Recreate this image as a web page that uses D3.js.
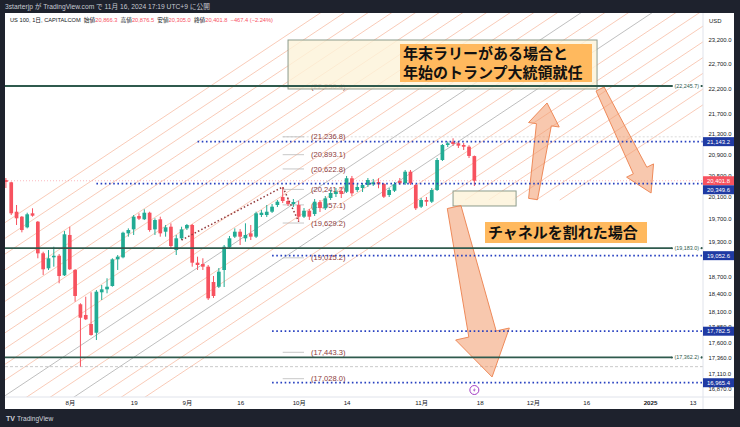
<!DOCTYPE html>
<html><head><meta charset="utf-8">
<script src="https://cdn.jsdelivr.net/npm/d3@7"></script>
<style>html,body{margin:0;padding:0;background:#1e222d;}svg{display:block}</style>
</head><body>
<svg id="c" width="740" height="427"></svg>
<script>
// ---------------- DATA ----------------
const startDay = new Date(2024, 6, 16), endDay = new Date(2025, 0, 15);
const open  = [20416,20373,19833,19743,19552,19804,19653,19094,18834,19024, 19052,18714,19416,18805,18225,18048,17900,17758,18426,18476, 18532,18989,19024,19445,19516,19755,19696,19815,19516,19696, 19474,19563,19151,19357,19534,19594,18931,18908,18862,18600, 18520,18805,19198,19386,19474,19357,19445,19386,19773,19773, 19833,19955,20101,20028,19973,19955,19743,19851,19791,20009, 19895,20083,20156,20212,20198,20448,20230,20267,20323,20336, 20379,20342,20138,20217,20397,20354,20571,20323,19924,20046, 20015,20230,20792,21079,21142,21112,21079,21046,20866.3];
const high  = [20453,20384,19955,19755,19815,19895,19665,19121,19151,19209, 19081,19486,19563,18822,18242,18352,18426,18464,18549,18663, 19007,19064,19474,19534,19773,19804,19877,19833,19714,19743, 19594,19623,19416,19563,19612,19612,19035,19007,18891,18702, 18839,19239,19398,19534,19522,19624,19594,19833,19864,19955, 19973,20046,20286,20083,20064,20028,19900,19882,20064,20046, 20119,20230,20267,20286,20491,20491,20342,20360,20453,20435, 20448,20360,20267,20379,20453,20603,20603,20342,20083,20101, 20267,20830,21098,21146,21208,21137,21117,21075,20876.5];
const low   = [20267,19773,19594,19463,19534,19743,19007,18720,18805,18862, 18578,18702,18805,18269,17216,17965,17710,17640,18297,18409, 18520,18805,19007,19386,19416,19683,19683,19474,19416,19386, 19386,19181,19064,19327,19504,18862,18805,18805,18297,18331, 18498,18515,19168,19362,19239,19297,19327,19362,19737,19737, 19810,19918,19991,19937,19918,19653,19719,19683,19755,19828, 19864,20046,20101,20083,20175,20119,20193,20193,20286,20304, 20262,20083,20101,20193,20323,20323,20323,19864,19900,19937, 19991,20212,20773,21040,21060,21021,20983,20830,20305.0];
const close = [20379,19804,19714,19504,19786,19761,19093,18817,19007,19051, 18702,19428,18817,18364,18003,17977,17721,18436,18476,18520, 18989,19035,19456,19504,19743,19707,19815,19504,19683,19445, 19552,19221,19357,19516,19594,18931,18891,18862,18325,18364, 18776,19209,19357,19474,19386,19416,19386,19804,19815,19833, 19924,20015,20028,19973,20009,19743,19851,19743,20015,19900, 20077,20175,20198,20156,20448,20169,20286,20323,20416,20373, 20336,20107,20230,20336,20354,20571,20354,19895,20046,20015, 20230,20792,21079,21112,21098,21066,21046,20869,20401.8];

const priceTicks = [23200,22700,22200,21700,21300,20900,20500,20100,19700,19300,18700,18400,18100,17850,17600,17360,17110,16870];
const timeTickDates  = ["2024-08-01","2024-08-19","2024-09-02","2024-09-16","2024-10-01","2024-10-14","2024-11-01","2024-11-18","2024-12-02","2024-12-16","2025-01-01","2025-01-13"];
const timeTickLabels = ["8月","19","9月","16","10月","14","11月","18","12月","16","2025","13"];

const solidLevels = [22245.7, 19183.0, 17362.2];
const rayLevels   = [21143.2, 20349.6, 19052.6, 17782.5, 16965.4];
const rayStarts   = ["2024-09-04","2024-08-08","2024-09-24","2024-09-24","2024-09-24"];
const fibLevels   = [22230.4, 21236.8, 20893.1, 20622.8, 20241.2, 19957.1, 19629.2, 19015.2, 17443.3, 17028.0];
const lastPrice = 20401.8;
const swingLow = 17216;
const topLevel = 21236.8;

// ---------------- SETUP ----------------
const svg = d3.select("#c");
const FONT = "'Liberation Sans','Noto Sans CJK JP',Arial,sans-serif";
const JP = "'Noto Sans CJK JP','Noto Sans CJK SC',sans-serif";
const fmtD = d3.timeFormat("%Y-%m-%d");
const dates = d3.timeDay.range(startDay, endDay).filter(d => d.getDay() % 6 !== 0);
const idxOf = s => dates.findIndex(d => fmtD(d) === s);

const PL = 5, PR = 703, PT = 13, PB = 397, RB = 734, BB = 409;
const x = d3.scaleLinear().domain([0, 129]).range([5.9, 692.6]);
const y = d3.scaleLog().domain([16870, 23200]).range([388.9, 40]);
const fmtP = d3.format(",.1f");

const GREEN = "#22ab94", RED = "#f7525f", BLUE = "#2740c0", DKGREEN = "#2f5a4d";

svg.append("rect").attr("width", 740).attr("height", 427).attr("fill", "#1e222d");
svg.append("rect").attr("x", PL).attr("y", PT).attr("width", RB - PL).attr("height", BB - PT).attr("fill", "#fff");

svg.append("defs").append("clipPath").attr("id", "plot")
  .append("rect").attr("x", PL).attr("y", PT).attr("width", PR - PL).attr("height", PB - PT);
const g = svg.append("g").attr("clip-path", "url(#plot)");

// ---------------- CHANNEL LINES ----------------
// parallel trend rays: growth per bar (log), first line anchor, spacing; upper rays start at a price floor
const chGrowth = 0.0032324, chIdx0 = 57.64, chStep = 4.447, chPrice = 23671;
const chGray = [11, 14];
const chCount = 23, chFullCount = 18, chFloor = 20046;
d3.range(chCount).forEach(k => {
  const ref = chIdx0 + k * chStep;
  let i0 = -2;
  if (k >= chFullCount) i0 = ref + Math.log(chFloor / chPrice) / chGrowth;
  const pts = [i0, 140].map(i => [x(i), y(chPrice * Math.exp(chGrowth * (i - ref)))]);
  g.append("path").attr("d", d3.line()(pts))
    .attr("stroke", chGray.includes(k) ? "#a3a3a3" : "#f7b49a")
    .attr("stroke-width", 0.7)
    .attr("fill", "none");
});

g.append("line").attr("x1", PL).attr("x2", PR).attr("y1", y(swingLow)).attr("y2", y(swingLow))
  .attr("stroke", "#bdbdbd").attr("stroke-width", 0.8).attr("stroke-dasharray", "3,2");
g.append("line").attr("x1", x(52)).attr("x2", PR).attr("y1", y(topLevel)).attr("y2", y(topLevel))
  .attr("stroke", "#cccccc").attr("stroke-width", 0.7).attr("stroke-dasharray", "2,2");
g.append("line").attr("x1", PL).attr("x2", PR).attr("y1", y(lastPrice)).attr("y2", y(lastPrice))
  .attr("stroke", RED).attr("stroke-opacity", 0.5).attr("stroke-width", 0.8).attr("stroke-dasharray", "1,2");

fibLevels.forEach(v => {
  g.append("line").attr("x1", x(52)).attr("x2", x(56)).attr("y1", y(v)).attr("y2", y(v))
    .attr("stroke", "#b9b9b9").attr("stroke-width", 0.8);
  g.append("text").attr("x", x(56) + 7).attr("y", y(v)).attr("dy", "0.35em")
    .attr("font-family", FONT).attr("font-size", 7.6).attr("fill", "#8d3b3b")
    .text("(" + fmtP(v) + ")");
});

// ---------------- CANDLES ----------------
const bw = 3.7;
const candles = g.append("g");
open.forEach((o, i) => {
  const c = close[i], col = c >= o ? GREEN : RED, cx = x(i);
  candles.append("line").attr("x1", cx).attr("x2", cx).attr("y1", y(high[i])).attr("y2", y(low[i]))
    .attr("stroke", col).attr("stroke-width", 1);
  const t = y(Math.max(o, c)), b = y(Math.min(o, c));
  candles.append("rect").attr("x", cx - bw / 2).attr("y", t).attr("width", bw).attr("height", Math.max(1, b - t))
    .attr("fill", col);
});

// ---------------- BOXES ----------------
const boxes = [{i0: 53.0, i1: 111.05, p0: 23200, p1: 22185}, {i0: 84.0, i1: 95.84, p0: 20212, p1: 19937}];
boxes.forEach(b => {
  g.append("rect").attr("x", x(b.i0)).attr("y", y(b.p0)).attr("width", x(b.i1) - x(b.i0)).attr("height", y(b.p1) - y(b.p0))
    .attr("fill", "#fdf3d8").attr("fill-opacity", 0.8).attr("stroke", "#8c9b8c").attr("stroke-width", 1);
});

// ---------------- ARROWS ----------------
function arrowPath(t, h, tailW, neckW, headW, headL) {
  const dx = h[0] - t[0], dy = h[1] - t[1], L = Math.hypot(dx, dy);
  const ux = dx / L, uy = dy / L, nx = -uy, ny = ux;
  const bx = h[0] - ux * headL, by = h[1] - uy * headL;
  const pts = [[t[0] + nx * tailW / 2, t[1] + ny * tailW / 2], [bx + nx * neckW / 2, by + ny * neckW / 2],
    [bx + nx * headW / 2, by + ny * headW / 2], h, [bx - nx * headW / 2, by - ny * headW / 2],
    [bx - nx * neckW / 2, by - ny * neckW / 2], [t[0] - nx * tailW / 2, t[1] - ny * tailW / 2]];
  return d3.line()(pts) + "Z";
}
const arrows = [
  {from: [99.03, 20064], to: [101.66, 21903], tw: 9, nw: 15, hw: 31, hl: 22},
  {from: [111.62, 22185], to: [121.2, 20175], tw: 9, nw: 15, hw: 30, hl: 25},
  {from: [84.2, 19918], to: [91.33, 17055], tw: 14, nw: 28, hw: 55, hl: 44}
];
arrows.forEach(a => {
  g.append("path").attr("d", arrowPath([x(a.from[0]), y(a.from[1])], [x(a.to[0]), y(a.to[1])], a.tw, a.nw, a.hw, a.hl))
    .attr("fill", "#f39a6c").attr("fill-opacity", 0.55).attr("stroke", "#ee8a5a").attr("stroke-width", 1);
});

// ---------------- HORIZONTAL LINES ----------------
solidLevels.forEach(v => {
  g.append("line").attr("x1", PL).attr("x2", PR).attr("y1", y(v)).attr("y2", y(v))
    .attr("stroke", DKGREEN).attr("stroke-width", 1.8);
});
rayLevels.forEach((v, k) => {
  g.append("line").attr("x1", x(idxOf(rayStarts[k]))).attr("x2", PR).attr("y1", y(v)).attr("y2", y(v))
    .attr("stroke", BLUE).attr("stroke-width", 1.8).attr("stroke-dasharray", "1.6,2.6");
});

const fibA = [33, 19327], fibB = [52, 20286], fibC = [55, 19653];
g.append("path").attr("d", d3.line()([fibA, fibB, fibC].map(p => [x(p[0]), y(p[1])])))
  .attr("fill", "none").attr("stroke", "#93393b").attr("stroke-width", 1.5).attr("stroke-dasharray", "1.5,2.2");

solidLevels.forEach(v => {
  const yy = y(v);
  g.append("rect").attr("x", 672).attr("y", yy - 3.5).attr("width", 29).attr("height", 7).attr("fill", "#fff");
  g.append("circle").attr("cx", 672).attr("cy", yy).attr("r", 1).attr("fill", DKGREEN);
  g.append("circle").attr("cx", 701.5).attr("cy", yy).attr("r", 1).attr("fill", DKGREEN);
  g.append("text").attr("x", 686.7).attr("y", yy).attr("dy", "0.35em").attr("text-anchor", "middle")
    .attr("font-family", FONT).attr("font-size", 5.4).attr("fill", DKGREEN).text("(" + fmtP(v) + ")");
});

// ---------------- TEXT LABELS ----------------
function label(x0, y0, w, h, lines, lh, top) {
  g.append("rect").attr("x", x0).attr("y", y0).attr("width", w).attr("height", h).attr("fill", "#ffb95e");
  lines.forEach((s, k) => {
    g.append("text").attr("x", x0 + 3).attr("y", y0 + top + lh * (k + 0.5)).attr("dy", "0.36em")
      .attr("font-family", JP).attr("font-weight", 700).attr("font-size", 15).attr("fill", "#111")
      .text(s);
  });
}
label(400, 44, 192, 38, ["年末ラリーがある場合と", "年始のトランプ大統領就任"], 18.5, 0.5);
label(485, 222, 162, 21, ["チャネルを割れた場合"], 19, 1);

const ev = g.append("g").attr("transform", `translate(${x(88)},390)`);
ev.append("circle").attr("r", 4.5).attr("fill", "#fff").attr("stroke", "#a23bc4").attr("stroke-width", 1);
ev.append("path").attr("d", "M0.8,-2.8 L-1.4,0.4 L0.2,0.4 L-0.8,2.8 L1.4,-0.4 L-0.2,-0.4 Z").attr("fill", "#a23bc4");

// ---------------- AXES ----------------
svg.append("line").attr("x1", PL).attr("x2", RB).attr("y1", PB).attr("y2", PB).attr("stroke", "#e0e3eb");
svg.append("line").attr("x1", PR).attr("x2", PR).attr("y1", PT).attr("y2", BB).attr("stroke", "#e0e3eb");

const yAxis = d3.axisRight(y).tickValues(priceTicks).tickSize(0).tickPadding(5.5).tickFormat(fmtP);
const ya = svg.append("g").attr("transform", `translate(${PR},0)`).call(yAxis);
ya.select(".domain").remove();
ya.selectAll("text").attr("font-family", FONT).attr("font-size", 5.9).attr("fill", "#131722");
svg.append("text").attr("x", 709).attr("y", 21).attr("dy", "0.35em").attr("font-family", FONT)
  .attr("font-size", 5.9).attr("fill", "#131722").text("USD");

const xAxis = d3.axisBottom(x).tickValues(timeTickDates.map(idxOf)).tickSize(0).tickPadding(0)
  .tickFormat((d, k) => timeTickLabels[k]);
const xa = svg.append("g").attr("transform", `translate(0,${PB})`).call(xAxis);
xa.select(".domain").remove();
xa.selectAll("text").attr("y", 6).attr("dy", "0.35em").attr("font-family", FONT).attr("font-size", 6.2)
  .attr("fill", "#131722").attr("font-weight", (d, k) => timeTickLabels[k] === "2025" ? 700 : 400);

const tags = rayLevels.map(v => ({v, c: BLUE})).concat([{v: lastPrice, c: RED}]).sort((a, b) => b.v - a.v);
let prevY = -100;
tags.forEach(t => {
  let yy = y(t.v);
  if (yy < prevY + 9) yy = prevY + 9;
  prevY = yy;
  svg.append("rect").attr("x", PR).attr("y", yy - 4.5).attr("width", RB - PR).attr("height", 9)
    .attr("fill", t.c === BLUE ? "#1f3aa3" : "#f7525f");
  svg.append("text").attr("x", 707).attr("y", yy).attr("dy", "0.35em").attr("font-family", FONT)
    .attr("font-size", 5.9).attr("fill", "#fff").text(fmtP(t.v));
});

// ---------------- HEADERS ----------------
svg.append("text").attr("x", 5).attr("y", 7).attr("dy", "0.35em").attr("font-family", FONT)
  .attr("font-size", 6.7).attr("fill", "#c7cad3").text("3starterjp が TradingView.com で 11月 16, 2024 17:19 UTC+9 に公開");

const hdr = svg.append("text").attr("x", 10).attr("y", 20).attr("dy", "0.35em").attr("font-family", FONT)
  .attr("font-size", 5.7).attr("fill", "#131722").attr("xml:space", "preserve");
const hparts = [["US 100, 1日, CAPITALCOM  始値", "#131722"], [fmtP(open[88]), RED], ["  高値", "#131722"], [fmtP(high[88]), RED],
  ["  安値", "#131722"], [fmtP(low[88]), RED], ["  終値", "#131722"], [fmtP(close[88]), RED],
  ["  −467.4 (−2.24%)", RED]];
hparts.forEach(p => hdr.append("tspan").attr("fill", p[1]).text(p[0]));

svg.append("text").attr("x", 6).attr("y", 418.5).attr("dy", "0.35em").attr("font-family", FONT)
  .attr("font-size", 7).attr("font-weight", 700).attr("fill", "#d1d4dc").text("TV");
svg.append("text").attr("x", 17).attr("y", 418.5).attr("dy", "0.35em").attr("font-family", FONT)
  .attr("font-size", 6.6).attr("fill", "#d1d4dc").text("TradingView");
</script>
</body></html>
